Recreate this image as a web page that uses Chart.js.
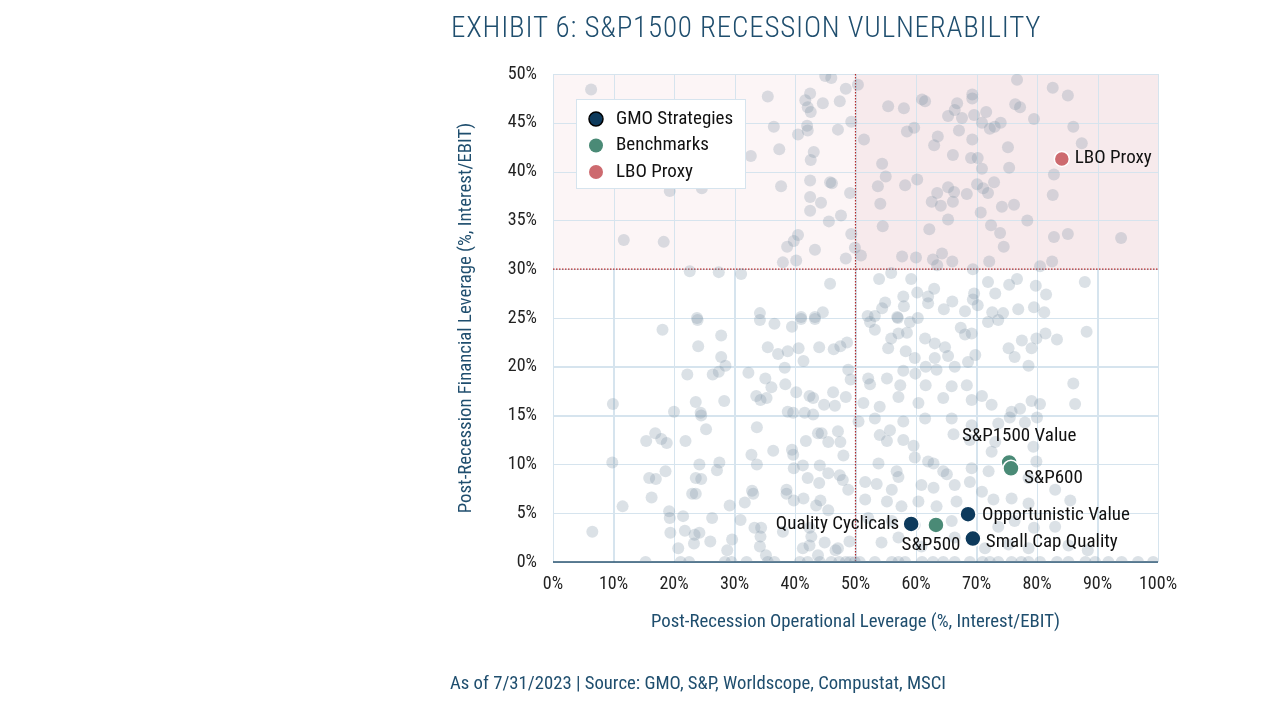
<!DOCTYPE html>
<html><head><meta charset="utf-8">
<script src="https://cdn.jsdelivr.net/npm/chart.js@4"></script>
<style>
body{margin:0;background:#fff;width:1275px;height:707px;overflow:hidden;font-family:"Roboto Condensed","Liberation Sans Narrow",Roboto,sans-serif;}
#wrap{position:absolute;left:0;top:0;width:1275px;height:707px;}
.t{position:absolute;color:#1f4e6e;white-space:nowrap;}
</style></head><body>
<div id="wrap"><canvas id="c" width="1275" height="707"></canvas></div>
<div class="t" style="left:451px;top:10px;font-size:29px;letter-spacing:0.8px;font-weight:300;">EXHIBIT 6: S&amp;P1500 RECESSION VULNERABILITY</div>
<div class="t" style="left:450px;top:672px;font-size:18.7px;">As of 7/31/2023 | Source: GMO, S&amp;P, Worldscope, Compustat, MSCI</div>
<script>
const xTitle = "Post-Recession Operational Leverage (%, Interest/EBIT)";
const yTitle = "Post-Recession Financial Leverage (%, Interest/EBIT)";
const universeX = [6.3,35.5,45,46,42.5,41.7,44.6,47.4,48.4,42.1,42.6,36.5,40.5,42,42.1,47.1,49.3,32.7,37.4,43.1,42.6,37.7,42.5,45.8,46.1,49.1,42.5,44.3,42.5,47.6,45.6,49.3,40.5,39.8,38.7,43.3,49.9,48.4,40.2,38,11.7,18.3,19.3,24.6,22.6,27.4,31.1,45.8,34.2,23.8,41,43.3,44.6,
50.4,76.7,82.6,85.1,55.4,58,61,61.5,69.3,69.3,66.8,76.4,77.2,66.4,65.3,67.6,69.6,71.6,70.9,72.2,73,74,79.5,86,87.4,59.7,58.5,63.6,63,67.1,69.3,51.4,66.1,69.1,70.2,75.2,75.4,70.9,54.4,55,53.7,58.2,60.2,63.5,65.3,66.3,66.1,62.6,64.1,68.4,70.1,71.1,71.9,72.9,74.2,76.2,70.7,65.3,54.1,54.5,62.2,72.4,73.9,74.5,78.4,82.8,82.6,82.8,85.1,93.9,50.9,57.7,60,62.8,64.3,63.5,66,72.1,82.5,80.5,69.4,
53.9,55.9,59.2,63,60.2,57.9,54.9,54.4,58,62,62,66,64.6,68.1,69.6,69.4,70.2,71.9,73.1,75.4,76.7,79.8,81.5,79.5,76.9,74.4,72.6,81.2,87.9,52,53.2,56.9,60.3,
18.1,23.9,27.8,24,27.8,28.5,26.4,27.4,22.2,34.2,36.6,39.5,41,43.3,35.5,37.2,38.8,40.6,41.4,44,46.4,47.5,48.6,48.8,49.2,38.3,32.3,35.1,36.1,38.4,40.2,33.6,34.3,35.3,42.4,43,44.8,46.3,46.6,48.4,28.3,23.6,24.4,24.5,20,9.9,25.3,33.7,38.8,39.7,41.6,43,16.9,15.4,17.9,18.8,21.9,9.8,32.8,36.4,39.5,39.7,41.8,43.8,44.4,45.5,47.1,47.5,48,24.2,27.5,27.1,33.7,39.8,41.3,44.1,18.6,15.9,17,23.6,24.5,42.1,44,45.5,47.4,47.9,16.3,23,23.6,32.9,33.1,38.6,38.6,39.8,41.4,48.8,11.5,29.2,31.7,19.2,19.3,21.5,26.3,31,43.5,44.2,45.5,6.5,19.4,21.8,23.4,24.2,26,29.6,23.3,20.7,28.8,33.3,34.4,34.3,34.2,35.2,38,42.4,42.7,42.4,41.3,44.9,46.7,47.1,43.8,49,
15.3,21.1,22.5,28.4,29.5,32,35.5,36.6,40.8,42.1,44.1,46,47.3,48.4,49.1,49.9,
52.4,53.2,57,59,55.9,57.1,58.5,61.5,63.1,64.8,67.4,68.1,69.2,71.9,73.6,75.3,76.3,77.5,79.1,79.9,81.4,83.3,88.2,78.6,58.3,59.8,61.6,63.1,65.3,66.4,68.6,69.8,55.4,52.1,55.2,57.9,59.9,63.4,52.4,57.4,61.6,65.9,68.4,70.9,72.5,75.8,77.2,79.1,80.5,86,86.3,51.3,54,57.1,60.4,64.5,69.2,50.5,53.2,55.7,57.9,61.5,65.9,69.2,73.6,75.5,78,80,54,55.2,57.9,59.6,62,62.9,66.2,68.9,72.5,73.1,79.4,79.9,53.8,56.8,57.1,59.8,64.5,65.1,69.2,72,78.6,83,85.5,51.6,53.5,56,60.9,62.9,66.4,68.9,70.9,51.6,55.2,57.6,60.4,63.4,66.7,72.8,75.8,78.6,52.1,56,59.8,65.9,73.6,76.3,79.5,83,54.3,57.1,60.9,66.4,71.4,75.3,78.6,85.2,88.4,
50.7,53.2,56,57.1,58.2,61,62.8,64.5,66.4,68.9,71,72.2,73.6,75.8,77.4,78.6,80.5,83.3,85.2,88,89.6,91.8,94,96.7,99.2];
const universeY = [48.4,47.7,49.8,49.6,48,47.3,47,47.2,48.5,46.6,46.1,44.6,43.8,44.7,44.2,44.3,45.1,41.6,42.3,42,41.2,38.5,39.1,38.9,38.8,37.8,37.4,36.8,36,35.5,34.9,33.6,33.5,32.9,32.3,32,32.2,31.1,30.9,30.7,33,32.8,38,38.3,29.8,29.7,29.5,28.5,25.5,25,25.1,25.1,25.6,
48.9,49.4,48.6,47.8,46.7,46.5,47.4,47.2,47.9,47.5,47,46.9,46.6,46.3,45.7,45.5,45.8,46.1,45,44.4,44.6,45,45.4,44.6,42.9,44.5,44.1,43.6,42.7,44.2,43.3,43.3,41.7,41.4,41.4,42.5,40.4,40.3,40.8,39.5,38.5,38.6,39.2,37.8,38.4,37.9,36.9,36.9,36.5,37.7,38.7,38.3,37.8,38.9,36.4,36.6,35.8,35.1,36.7,34.4,34.1,34.5,33.7,32.3,35,39.7,37.6,33.3,33.6,33.2,31.4,31.3,31.2,31,31.6,30.4,30.8,30.8,30.8,30.3,30,
29,29.6,29,28,27.6,27.2,26.6,26,26.2,27.2,26.5,26.7,25.9,25.7,27.5,26.9,26.3,28.7,27.5,28.4,29,28.3,27.4,26.1,25.9,25.5,25.6,25.6,28.7,25.2,25.2,25.1,25,
23.8,24.8,23.2,22.1,21,20.1,19.2,19.5,19.2,24.8,24.4,24.1,24.9,24.9,22,21.3,21.6,21.9,20.6,22,21.8,22.1,22.5,19.7,18.7,19.9,19.4,18.8,17.9,18.2,17.4,17,16.6,16.8,17,16.8,16.1,17.4,16,16.9,16.5,16.4,15.3,15,15.4,16.2,13.6,13.8,15.4,15.3,15.3,15.1,13.2,12.4,12.6,12.2,12.4,10.2,11,11.4,11.5,11,12.4,13.2,13.2,12.3,13.4,12.3,10.9,10,10.2,9.4,10,9.6,9.9,9.9,9.3,8.6,8.5,8.6,8.5,8.6,8.1,9.1,8.9,8.4,6.6,7,7,7.3,7,7.4,7,6.3,6.5,7.4,5.7,5.8,6.1,5.2,4.5,4.7,4.5,4.3,5.8,6.3,5.3,3.1,3,3.2,2.8,3,2.1,2.3,1.9,1.4,1.2,3.5,3.5,2.6,1.6,0.7,3.1,3.5,2.6,1.7,1.4,2,1.2,1.4,0.7,2.1,
0,0,0,0,0,0,0,0,0,0,0,0,0,0,0,0,
24.6,23.8,25,24.6,22.9,23.4,23.5,22.9,22.4,22,24,23.3,23.4,24.6,24.8,21.9,21,22.7,21.9,22.9,23.4,22.8,23.6,20.1,21.6,20.9,20,20.9,21.1,20,20.5,21.2,21.9,18.8,18.8,19.6,19.3,19.7,18.2,18.1,18.1,18,18.1,17,16.1,15.4,15.7,16.5,16.2,18.3,16.2,16.3,15.9,16.9,16.3,16.8,16.6,14.4,14.7,13.5,14.4,14.7,14.7,14,14.2,14.8,14.3,14.8,13,12.4,12.5,11.9,10.3,10.1,13.1,12.5,11.3,12.3,11.8,10.3,10.1,9.3,8.7,10.7,9.3,9,9.6,9.3,8.6,7.4,6.3,8.2,8,7.4,7.9,7.6,7.9,8.2,7.2,6.4,6.2,5.7,6.2,5.7,6.2,6.4,6.5,6,4.5,4.2,3.8,4.2,3.6,4.2,3.5,3.6,2,2.5,1.6,2.5,1.4,1.8,1.4,1.7,1.2,
0,0,0,0,0,0,0,0,0,0,0,0,0,0,0,0,0,0,0,0,0,0,0,0,0];
const gmoNames = ["Quality Cyclicals","Opportunistic Value","Small Cap Quality"];
const gmoX = [59.2,68.6,69.4];
const gmoY = [3.9,4.9,2.4];
const benchNames = ["S&P500","S&P1500 Value","S&P600"];
const benchX = [63.3,75.4,75.7];
const benchY = [3.8,10.2,9.6];
const lboNames = ["LBO Proxy"];
const lboX = [84.1];
const lboY = [41.3];
const xTicks = [0,10,20,30,40,50,60,70,80,90,100];
const yTicks = [0,5,10,15,20,25,30,35,40,45,50];
const legendItems = [["GMO Strategies","#0d3a5c"],["Benchmarks","#4a8a76"],["LBO Proxy","#cd6a6f"]];

const FONT = '"Roboto Condensed","Liberation Sans Narrow",Roboto,sans-serif';
const pts = (xs,ys)=>xs.map((x,i)=>({x:x,y:ys[i]}));
const labelPos = {
 "Quality Cyclicals":[-12,0,"right"],"Opportunistic Value":[14,1,"left"],"Small Cap Quality":[13,4,"left"],
 "S&P500":[-5,20,"center"],"S&P1500 Value":[10,-26,"center"],"S&P600":[13,10,"left"],"LBO Proxy":[13,-1,"left"]};

const bg = {
 id:'bg',
 beforeDatasetsDraw(ch){
  const {ctx,scales:{x,y}} = ch;
  ctx.save();
  ctx.fillStyle='#fcf5f6';
  ctx.fillRect(x.getPixelForValue(0),y.getPixelForValue(50),x.getPixelForValue(50)-x.getPixelForValue(0),y.getPixelForValue(30)-y.getPixelForValue(50));
  ctx.fillStyle='#f7eaec';
  ctx.fillRect(x.getPixelForValue(50),y.getPixelForValue(50),x.getPixelForValue(100)-x.getPixelForValue(50),y.getPixelForValue(30)-y.getPixelForValue(50));
  ctx.strokeStyle='#d6e4ee';ctx.lineWidth=1;
  xTicks.forEach(v=>{const p=Math.round(x.getPixelForValue(v))+0.5;ctx.beginPath();ctx.moveTo(p,y.getPixelForValue(50));ctx.lineTo(p,y.getPixelForValue(0));ctx.stroke();});
  yTicks.forEach(v=>{const p=Math.round(y.getPixelForValue(v))+0.5;ctx.beginPath();ctx.moveTo(x.getPixelForValue(0),p);ctx.lineTo(x.getPixelForValue(100),p);ctx.stroke();});
  ctx.strokeStyle='#b22a2a';ctx.setLineDash([1.5,1.5]);ctx.lineWidth=1.2;
  ctx.beginPath();ctx.moveTo(x.getPixelForValue(50),y.getPixelForValue(50));ctx.lineTo(x.getPixelForValue(50),y.getPixelForValue(0));ctx.stroke();
  ctx.beginPath();ctx.moveTo(x.getPixelForValue(0),y.getPixelForValue(30));ctx.lineTo(x.getPixelForValue(100),y.getPixelForValue(30));ctx.stroke();
  ctx.setLineDash([]);
  ctx.strokeStyle='#2a5570';ctx.lineWidth=1.5;
  ctx.beginPath();ctx.moveTo(x.getPixelForValue(0),y.getPixelForValue(0));ctx.lineTo(x.getPixelForValue(100),y.getPixelForValue(0));ctx.stroke();
  ctx.restore();
 },
 afterDraw(ch){
  const {ctx,scales:{x,y}} = ch;
  ctx.save();
  ctx.fillStyle='#1f4e6e';ctx.font='18.8px '+FONT;ctx.textAlign='center';ctx.textBaseline='middle';
  ctx.fillText(xTitle,(x.left+x.right)/2,622);
  ctx.translate(466,(y.top+y.bottom)/2);ctx.rotate(-Math.PI/2);ctx.fillText(yTitle,0,0);
  ctx.restore();
  ctx.save();ctx.font='19px '+FONT;ctx.fillStyle='#111';ctx.textBaseline='middle';
  [[gmoNames,gmoX,gmoY],[benchNames,benchX,benchY],[lboNames,lboX,lboY]].forEach(([n,xs,ys])=>{
   n.forEach((name,i)=>{const lp=labelPos[name];ctx.textAlign=lp[2];
    ctx.fillText(name,x.getPixelForValue(xs[i])+lp[0],y.getPixelForValue(ys[i])+lp[1]);});
  });
  ctx.restore();
  ctx.save();
  ctx.fillStyle='#fff';ctx.strokeStyle='#d6e4ee';ctx.lineWidth=1;
  ctx.fillRect(576,99,169,89);ctx.strokeRect(576.5,99.5,169,89);
  ctx.font='19px '+FONT;ctx.textBaseline='middle';ctx.textAlign='left';
  legendItems.forEach((it,i)=>{const cy=119+i*26.5;
   ctx.beginPath();ctx.arc(596,cy,7,0,Math.PI*2);ctx.fillStyle=it[1];ctx.fill();
   if(i===0){ctx.strokeStyle='#000';ctx.lineWidth=1.5;ctx.stroke();}
   ctx.fillStyle='#111';ctx.fillText(it[0],616,cy);});
  ctx.restore();
 }
};

new Chart(document.getElementById('c'),{
 type:'scatter',
 data:{datasets:[
  {label:'GMO Strategies',data:pts(gmoX,gmoY),backgroundColor:'#0d3a5c',borderColor:'#ffffff',borderWidth:1.5,pointRadius:8,order:1},
  {label:'Benchmarks',data:pts(benchX,benchY),backgroundColor:'#4a8a76',borderColor:'#ffffff',borderWidth:1.5,pointRadius:8,order:1},
  {label:'LBO Proxy',data:pts(lboX,lboY),backgroundColor:'#cd6a6f',borderColor:'#ffffff',borderWidth:1.5,pointRadius:7.5,order:1},
  {label:'Universe',data:pts(universeX,universeY),backgroundColor:'rgba(115,140,158,0.26)',borderColor:'rgba(115,140,158,0.26)',borderWidth:0,pointRadius:6,order:5}
 ]},
 options:{
  responsive:false,animation:false,devicePixelRatio:1,
  layout:{padding:{left:0,top:74,right:117,bottom:0}},
  plugins:{legend:{display:false},tooltip:{enabled:false}},
  scales:{
   x:{type:'linear',min:0,max:100,afterFit(s){s.height=145;},
      afterBuildTicks(s){s.ticks=xTicks.map(v=>({value:v}));},
      grid:{color:'#d6e4ee',drawTicks:false},border:{display:false},
      ticks:{padding:12,color:'#222',font:{family:FONT,size:18},callback:v=>v+'%'}},
   y:{type:'linear',min:0,max:50,afterFit(s){s.width=553;},
      afterBuildTicks(s){s.ticks=yTicks.map(v=>({value:v}));},
      grid:{color:'#d6e4ee',drawTicks:false},border:{display:false},
      ticks:{padding:16,color:'#222',font:{family:FONT,size:18},callback:v=>v+'%'}}
  }
 },
 plugins:[bg]
});
</script></body></html>
